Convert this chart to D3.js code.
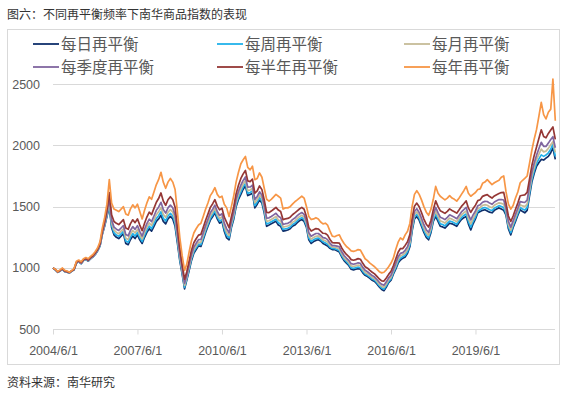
<!DOCTYPE html>
<html>
<head>
<meta charset="utf-8">
<script src="https://cdn.jsdelivr.net/npm/d3@7/dist/d3.min.js"></script>
<style>
    body { margin: 0; background: #fff; }
    svg text { font-family: "Noto Sans CJK SC", "Liberation Sans", sans-serif; }
    .tick-label { font-family: "Liberation Sans", Arial, sans-serif !important; font-size: 12.5px; fill: #595959; }
</style>
</head>
<body>
<div id="chart"></div>
<script>
// monthly observations, first one is 2004/6/1
const startMonth = new Date(2004, 5, 1);

const dailyValues = [
    1000, 985, 965, 975, 990, 970, 965, 960, 975, 985,
    1040, 1050, 1035, 1060, 1070, 1055, 1075, 1090, 1110, 1140,
    1180, 1270, 1340, 1420, 1500, 1330, 1270, 1250, 1240, 1260,
    1280, 1200, 1190, 1230, 1260, 1240, 1270, 1230, 1200, 1250,
    1290, 1320, 1300, 1340, 1380, 1400, 1430, 1380, 1360, 1400,
    1420, 1400, 1340, 1200, 1060, 950, 830, 900, 980, 1060,
    1120, 1150, 1180, 1175, 1230, 1290, 1340, 1390, 1420, 1450,
    1400, 1365, 1380, 1300, 1245, 1230, 1330, 1400, 1500, 1560,
    1600, 1640, 1670, 1590, 1600, 1610, 1490, 1520, 1555, 1530,
    1450, 1340, 1350, 1360, 1370, 1380, 1350, 1340, 1300, 1305,
    1310, 1320, 1340, 1350, 1370, 1385, 1395, 1380, 1330, 1230,
    1200, 1215, 1225, 1230, 1220, 1200, 1190, 1180, 1160, 1150,
    1150, 1140, 1130, 1090, 1060, 1040, 1020, 990, 985, 990,
    995, 990, 960, 940, 930, 915, 900, 890, 870, 845,
    825, 815, 845, 880, 900, 950, 990, 1040, 1065, 1080,
    1090, 1120, 1175, 1300, 1400, 1420, 1390, 1340, 1290, 1250,
    1230, 1290, 1380, 1420, 1380, 1340, 1335, 1325, 1345, 1365,
    1360, 1350, 1340, 1370, 1395, 1410, 1420, 1360, 1310, 1360,
    1400, 1450, 1460, 1470, 1475, 1465, 1455, 1450, 1470, 1480,
    1490, 1480, 1470, 1430, 1320, 1270, 1330, 1380, 1430, 1475,
    1460, 1450, 1470, 1585, 1700, 1770, 1830, 1860, 1885, 1880,
    1895, 1910, 1940, 1980, 1885
];

const weeklyValues = [
    1000, 985, 965, 976, 991, 971, 966, 960, 975, 986,
    1041, 1051, 1036, 1061, 1071, 1057, 1077, 1092, 1112, 1142,
    1183, 1274, 1346, 1428, 1518, 1346, 1287, 1268, 1258, 1278,
    1298, 1219, 1209, 1250, 1280, 1260, 1290, 1248, 1216, 1268,
    1309, 1341, 1321, 1362, 1404, 1426, 1458, 1406, 1383, 1424,
    1445, 1424, 1364, 1220, 1075, 962, 842, 910, 992, 1073,
    1133, 1164, 1194, 1190, 1245, 1305, 1355, 1406, 1436, 1466,
    1416, 1382, 1396, 1318, 1265, 1245, 1344, 1415, 1516, 1578,
    1620, 1659, 1689, 1608, 1616, 1628, 1508, 1537, 1573, 1547,
    1466, 1358, 1366, 1376, 1387, 1398, 1369, 1358, 1314, 1320,
    1324, 1334, 1354, 1365, 1385, 1400, 1410, 1395, 1344, 1245,
    1216, 1230, 1240, 1244, 1232, 1213, 1204, 1194, 1171, 1159,
    1158, 1150, 1141, 1101, 1071, 1051, 1031, 1002, 997, 1002,
    1007, 1002, 972, 951, 940, 925, 910, 900, 880, 855,
    836, 827, 856, 890, 911, 960, 1003, 1054, 1079, 1092,
    1104, 1134, 1190, 1316, 1416, 1437, 1407, 1357, 1307, 1266,
    1246, 1305, 1394, 1440, 1398, 1360, 1354, 1343, 1363, 1383,
    1377, 1367, 1356, 1386, 1411, 1428, 1440, 1380, 1332, 1379,
    1417, 1465, 1475, 1488, 1493, 1485, 1475, 1468, 1488, 1498,
    1508, 1501, 1492, 1445, 1336, 1287, 1344, 1395, 1445, 1493,
    1480, 1472, 1492, 1606, 1721, 1792, 1854, 1890, 1922, 1910,
    1921, 1939, 1968, 2010, 1910
];

const monthlyValues = [
    1000, 986, 966, 977, 992, 972, 967, 961, 976, 987,
    1043, 1053, 1038, 1063, 1073, 1059, 1079, 1094, 1115, 1145,
    1186, 1279, 1353, 1438, 1540, 1366, 1308, 1290, 1280, 1300,
    1320, 1243, 1233, 1275, 1306, 1285, 1315, 1271, 1236, 1290,
    1333, 1367, 1347, 1390, 1434, 1458, 1493, 1438, 1412, 1454,
    1476, 1454, 1394, 1245, 1094, 977, 857, 923, 1007, 1089,
    1150, 1181, 1211, 1209, 1264, 1324, 1374, 1426, 1456, 1487,
    1436, 1403, 1417, 1340, 1289, 1264, 1361, 1434, 1536, 1600,
    1645, 1683, 1713, 1631, 1636, 1650, 1531, 1558, 1595, 1568,
    1486, 1380, 1385, 1396, 1408, 1420, 1392, 1381, 1332, 1338,
    1342, 1352, 1372, 1384, 1403, 1418, 1429, 1414, 1361, 1264,
    1235, 1248, 1258, 1261, 1248, 1229, 1222, 1211, 1185, 1170,
    1169, 1163, 1155, 1115, 1085, 1064, 1045, 1017, 1012, 1017,
    1023, 1018, 987, 964, 953, 938, 923, 912, 892, 868,
    849, 842, 870, 903, 925, 973, 1019, 1071, 1097, 1107,
    1122, 1152, 1209, 1336, 1436, 1458, 1428, 1379, 1328, 1287,
    1266, 1324, 1412, 1464, 1421, 1384, 1377, 1366, 1386, 1406,
    1398, 1388, 1377, 1406, 1432, 1450, 1464, 1405, 1360, 1403,
    1439, 1484, 1493, 1510, 1516, 1511, 1499, 1491, 1511, 1521,
    1531, 1527, 1520, 1464, 1356, 1308, 1362, 1414, 1464, 1515,
    1506, 1500, 1520, 1633, 1747, 1820, 1884, 1928, 1969, 1947,
    1953, 1975, 2004, 2030, 1942
];

const quarterlyValues = [
    1000, 987, 967, 978, 993, 973, 968, 962, 977, 988,
    1045, 1055, 1040, 1065, 1075, 1061, 1081, 1096, 1118, 1148,
    1191, 1285, 1361, 1450, 1566, 1390, 1333, 1316, 1306, 1326,
    1346, 1272, 1262, 1305, 1337, 1315, 1345, 1299, 1260, 1316,
    1362, 1398, 1378, 1424, 1470, 1496, 1535, 1476, 1447, 1490,
    1513, 1490, 1430, 1275, 1117, 995, 875, 939, 1025, 1108,
    1170, 1201, 1231, 1232, 1287, 1347, 1397, 1450, 1480, 1512,
    1460, 1428, 1442, 1366, 1319, 1287, 1381, 1457, 1560, 1626,
    1675, 1712, 1742, 1659, 1660, 1676, 1559, 1583, 1621, 1593,
    1510, 1406, 1409, 1420, 1433, 1446, 1421, 1409, 1354, 1361,
    1364, 1374, 1394, 1407, 1426, 1441, 1452, 1437, 1381, 1287,
    1259, 1271, 1281, 1281, 1267, 1248, 1243, 1231, 1202, 1183,
    1182, 1178, 1172, 1132, 1102, 1081, 1062, 1035, 1030, 1035,
    1042, 1037, 1005, 981, 969, 953, 938, 926, 906, 883,
    866, 860, 887, 919, 942, 989, 1038, 1091, 1119, 1125,
    1144, 1174, 1232, 1360, 1460, 1483, 1453, 1405, 1353, 1312,
    1290, 1347, 1434, 1494, 1449, 1414, 1406, 1394, 1413, 1433,
    1423, 1413, 1402, 1430, 1457, 1476, 1494, 1435, 1393, 1432,
    1465, 1507, 1516, 1536, 1543, 1542, 1529, 1519, 1538, 1548,
    1558, 1558, 1554, 1487, 1380, 1333, 1384, 1437, 1487, 1541,
    1537, 1534, 1554, 1665, 1778, 1854, 1920, 1974, 2025, 1991,
    1991, 2018, 2047, 2070, 1980
];

const halfYearValues = [
    1000, 988, 968, 980, 995, 975, 970, 963, 978, 990,
    1048, 1058, 1043, 1068, 1078, 1065, 1085, 1100, 1123, 1153,
    1198, 1296, 1376, 1472, 1614, 1434, 1379, 1364, 1354, 1374,
    1394, 1325, 1315, 1360, 1393, 1370, 1400, 1350, 1304, 1364,
    1415, 1455, 1435, 1486, 1536, 1566, 1612, 1546, 1511, 1556,
    1581, 1556, 1496, 1330, 1159, 1028, 908, 968, 1058, 1143,
    1206, 1238, 1268, 1274, 1329, 1389, 1439, 1494, 1524, 1557,
    1504, 1474, 1487, 1414, 1372, 1329, 1418, 1499, 1604, 1674,
    1730, 1765, 1795, 1710, 1704, 1724, 1610, 1629, 1669, 1639,
    1554, 1454, 1451, 1464, 1479, 1494, 1472, 1460, 1394, 1401,
    1404, 1414, 1434, 1449, 1466, 1481, 1494, 1479, 1418, 1329,
    1301, 1311, 1321, 1318, 1301, 1283, 1281, 1268, 1233, 1207,
    1205, 1205, 1203, 1163, 1133, 1110, 1093, 1068, 1063, 1068,
    1076, 1071, 1038, 1010, 998, 980, 965, 952, 932, 910,
    895, 893, 918, 948, 973, 1018, 1073, 1128, 1159, 1158,
    1184, 1214, 1274, 1404, 1504, 1529, 1499, 1452, 1399, 1357,
    1334, 1389, 1474, 1547, 1500, 1467, 1457, 1445, 1462, 1482,
    1469, 1459, 1447, 1474, 1502, 1524, 1547, 1490, 1453, 1485,
    1512, 1549, 1556, 1584, 1592, 1598, 1582, 1570, 1587, 1597,
    1607, 1615, 1616, 1529, 1424, 1379, 1424, 1479, 1529, 1589,
    1593, 1596, 1616, 1723, 1835, 1916, 1986, 2058, 2127, 2072,
    2061, 2097, 2125, 2150, 2049
];

const yearlyValues = [
    1000, 990, 970, 985, 1000, 980, 975, 965, 980, 995,
    1055, 1065, 1050, 1075, 1085, 1075, 1095, 1110, 1135, 1165,
    1215, 1320, 1410, 1520, 1720, 1530, 1480, 1470, 1460, 1480,
    1500, 1440, 1430, 1480, 1515, 1490, 1520, 1460, 1400, 1470,
    1530, 1580, 1560, 1620, 1680, 1720, 1780, 1700, 1650, 1700,
    1730, 1700, 1640, 1450, 1250, 1100, 980, 1030, 1130, 1220,
    1285, 1320, 1350, 1365, 1420, 1480, 1530, 1590, 1620, 1655,
    1600, 1575, 1585, 1520, 1490, 1420, 1500, 1590, 1700, 1780,
    1850, 1880, 1910, 1820, 1800, 1830, 1720, 1730, 1775, 1740,
    1650, 1560, 1545, 1560, 1580, 1600, 1585, 1570, 1480, 1490,
    1490, 1500, 1520, 1540, 1555, 1570, 1585, 1570, 1500, 1420,
    1395, 1400, 1410, 1400, 1375, 1360, 1365, 1350, 1300, 1260,
    1255, 1265, 1270, 1230, 1200, 1175, 1160, 1140, 1135, 1140,
    1150, 1145, 1110, 1075, 1060, 1040, 1025, 1010, 990, 970,
    960, 965, 985, 1010, 1040, 1080, 1150, 1210, 1245, 1230,
    1270, 1300, 1365, 1500, 1600, 1630, 1600, 1555, 1500, 1455,
    1430, 1480, 1560, 1665, 1610, 1585, 1570, 1555, 1570, 1590,
    1570, 1560, 1545, 1570, 1600, 1630, 1665, 1610, 1585, 1600,
    1615, 1640, 1645, 1690, 1700, 1720, 1700, 1680, 1695, 1705,
    1715, 1740, 1750, 1620, 1520, 1480, 1510, 1570, 1620, 1695,
    1715, 1730, 1750, 1850, 1960, 2050, 2130, 2240, 2350, 2250,
    2215, 2270, 2295, 2540, 2200
];

const seriesNames = ["每日再平衡", "每周再平衡", "每月再平衡", "每季度再平衡", "每半年再平衡", "每年再平衡"];
const seriesColors = ["#0f2f6b", "#21b1ea", "#c6bc97", "#8066a0", "#953735", "#f79646"];
const yTicks = [500, 1000, 1500, 2000, 2500];
const xTickLabels = ["2004/6/1", "2007/6/1", "2010/6/1", "2013/6/1", "2016/6/1", "2019/6/1"];

class RebalanceChart {
    constructor(_parentElement) {
        this.parentElement = _parentElement;
        this.initVis();
    }

    initVis() {
        const vis = this;

        vis.width = 566;
        vis.height = 393;

        vis.svg = d3.select(`#${vis.parentElement}`)
            .append("svg")
            .attr("width", vis.width)
            .attr("height", vis.height);

        // title + source
        vis.svg.append("text")
            .attr("x", 7)
            .attr("y", 19)
            .attr("font-size", 12)
            .attr("fill", "#333")
            .text("图六：不同再平衡频率下南华商品指数的表现");

        vis.svg.append("text")
            .attr("x", 7)
            .attr("y", 387)
            .attr("font-size", 12)
            .attr("fill", "#333")
            .text("资料来源：南华研究");

        // chart frame
        vis.svg.append("rect")
            .attr("x", 7.5)
            .attr("y", 29.5)
            .attr("width", 552)
            .attr("height", 335)
            .attr("fill", "none")
            .attr("stroke", "#d9d9d9");

        // scales
        vis.x = d3.scaleTime()
            .domain([startMonth, d3.timeMonth.offset(startMonth, dailyValues.length - 1)])
            .range([53, 555.3]);
        vis.y = d3.scaleLinear().domain([500, 2500]).range([329.3, 84]);

        vis.dates = dailyValues.map((d, i) => d3.timeMonth.offset(startMonth, i));
        vis.series = [dailyValues, weeklyValues, monthlyValues, quarterlyValues, halfYearValues, yearlyValues];

        vis.wrangleData();
    }

    wrangleData() {
        const vis = this;
        vis.lines = vis.series.map((vals, k) => ({
            name: seriesNames[k],
            color: seriesColors[k],
            values: vals.map((v, i) => ({ date: vis.dates[i], value: v }))
        }));
        vis.updateVis();
    }

    updateVis() {
        const vis = this;

        // horizontal gridlines
        vis.svg.append("g")
            .selectAll("line")
            .data(yTicks.slice(1))
            .join("line")
            .attr("x1", 53)
            .attr("x2", 555)
            .attr("y1", d => Math.round(vis.y(d)) + 0.5)
            .attr("y2", d => Math.round(vis.y(d)) + 0.5)
            .attr("stroke", "#d9d9d9");

        // y labels
        vis.svg.append("g")
            .selectAll("text")
            .data(yTicks)
            .join("text")
            .attr("class", "tick-label")
            .attr("x", 40)
            .attr("y", d => vis.y(d) + 4.5)
            .attr("text-anchor", "end")
            .text(d => d);

        // x axis
        const tickDates = xTickLabels.map(s => d3.timeParse("%Y/%m/%d")(s));
        const xAxis = d3.axisBottom(vis.x)
            .tickValues(tickDates)
            .tickSize(5)
            .tickFormat(d3.timeFormat("%Y/%-m/%-d"));

        const xg = vis.svg.append("g")
            .attr("transform", `translate(0,${Math.round(vis.y(500)) + 0.5})`)
            .call(xAxis);
        xg.select(".domain").attr("stroke", "#d9d9d9").attr("d", "M53,0H555");
        xg.selectAll(".tick line").attr("stroke", "#d9d9d9");
        xg.selectAll(".tick text")
            .attr("class", "tick-label")
            .attr("y", 17);

        // series lines
        const line = d3.line()
            .x(d => vis.x(d.date))
            .y(d => vis.y(d.value));

        vis.svg.append("g")
            .selectAll("path")
            .data(vis.lines)
            .join("path")
            .attr("d", d => line(d.values))
            .attr("fill", "none")
            .attr("stroke", d => d.color)
            .attr("stroke-width", 1.7)
            .attr("stroke-linejoin", "round");

        // legend: 3 columns, 2 rows
        const colX = [33, 217, 404];
        const rowY = [44, 67];
        const legend = vis.svg.append("g")
            .selectAll("g")
            .data(vis.lines)
            .join("g")
            .attr("transform", (d, i) => `translate(${colX[i % 3]},${rowY[Math.floor(i / 3)]})`);

        legend.append("line")
            .attr("x1", 0)
            .attr("x2", 26)
            .attr("stroke", d => d.color)
            .attr("stroke-width", 1.8);

        legend.append("text")
            .attr("x", 28)
            .attr("y", 5.5)
            .attr("font-size", 15.5)
            .attr("fill", "#595959")
            .text(d => d.name);
    }
}

new RebalanceChart("chart");
</script>
</body>
</html>
